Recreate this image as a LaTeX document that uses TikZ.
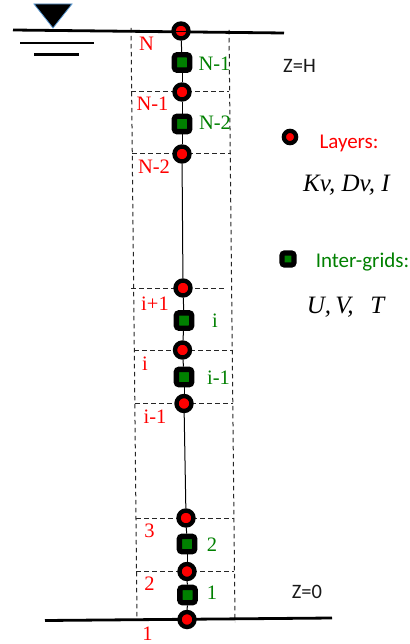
\documentclass[tikz,border=0pt]{standalone}
\usepackage{fontspec}
\setmainfont{Liberation Serif}
\newfontfamily\calfnt{Carlito}
\definecolor{gr}{RGB}{0,128,0}
\definecolor{tri}{RGB}{91,155,213}
\tikzset{
 layerpt/.style={circle,fill=red,draw=black,line width=4.4pt,minimum size=15pt,inner sep=0pt},
 gridpt/.style={rectangle,rounded corners=2.5pt,fill=gr,draw=black,line width=5.3pt,minimum size=15.3pt,inner sep=0pt},
 grid/.style={dashed,dash pattern=on 4.5pt off 3.5pt,line width=1pt,black!85},
 stem/.style={line width=1pt},
 ground/.style={line width=2.8pt},
 rl/.style={text=red,font=\fontsize{20.5}{21}\selectfont,inner sep=0pt},
 gl/.style={text=gr,font=\fontsize{20.5}{21}\selectfont,inner sep=0pt},
 kl/.style={text=black!90,font=\calfnt\fontsize{20.5}{21}\selectfont,inner sep=0pt},
}
\begin{document}
\begin{tikzpicture}[x=1pt,y=-1pt]
\useasboundingbox (0,0) rectangle (409,644);
% dashed frame
\coordinate (tl) at (131,28); \coordinate (bl) at (137,618);
\coordinate (tr) at (229,30); \coordinate (br) at (235,622);
\draw[grid] (tl) -- (bl); \draw[grid] (tr) -- (br);
% surface and bed
\coordinate (s1) at (13,30); \coordinate (s2) at (284,33);
\coordinate (b1) at (45,620.5); \coordinate (b2) at (332,618);
\draw[ground] (s1) -- (s2);
\draw[ground] (b1) -- (b2);
% water symbol
\draw[tri,line width=0.8pt,fill=black] (34,4) -- (72,4) -- (53,28) -- cycle;
\coordinate (w1) at (20,43); \coordinate (w2) at (94,43);
\coordinate (w3) at (34,54.5); \coordinate (w4) at (79,54.5);
\draw[line width=2.2pt] (w1) -- (w2);
\draw[line width=2.2pt] (w3) -- (w4);
% dashed layer lines
\foreach \n/\xa/\xb/\y in {a/131/229/92,b/132/230/153.5,c/131/226/288.5,d/134/232/350,e/135/233/403.5,f/136/234/518,g/136/234/571}{
 \coordinate (h\n1) at (\xa,\y); \coordinate (h\n2) at (\xb,\y);
 \draw[grid] (h\n1) -- (h\n2);
}
% nodes
\node[layerpt] (L1) at (181,31) {};
\node[layerpt] (L2) at (182,92) {};
\node[layerpt] (L3) at (182,154) {};
\node[layerpt] (L4) at (183,288) {};
\node[layerpt] (L5) at (182.5,350) {};
\node[layerpt] (L6) at (184,403.5) {};
\node[layerpt] (L7) at (186,518) {};
\node[layerpt] (L8) at (187,571.5) {};
\node[layerpt] (L9) at (187,619.5) {};
\node[gridpt] (G1) at (182,62.5) {};
\node[gridpt] (G2) at (182,124) {};
\node[gridpt] (G3) at (184,320.5) {};
\node[gridpt] (G4) at (184,377) {};
\node[gridpt] (G5) at (187,544) {};
\node[gridpt] (G6) at (187.5,595) {};
% stem
\draw[stem] (L1)--(G1); \draw[stem] (G1)--(L2); \draw[stem] (L2)--(G2); \draw[stem] (G2)--(L3);
\draw[stem] (L3)--(L4); \draw[stem] (L4)--(G3); \draw[stem] (G3)--(L5); \draw[stem] (L5)--(G4);
\draw[stem] (G4)--(L6); \draw[stem] (L6)--(L7); \draw[stem] (L7)--(G5); \draw[stem] (G5)--(L8);
\draw[stem] (L8)--(G6); \draw[stem] (G6)--(L9);
\draw[line width=1.6pt] (174,31.5) -- (188,31.5);
% red labels
\node[rl] (r1) at (146.5,44) {N};
\node[rl] (r2) at (152.5,103.5) {N-1};
\node[rl] (r3) at (154,166.5) {N-2};
\node[rl] (r4) at (155,304) {i+1};
\node[rl] (r5) at (145,363.5) {i};
\node[rl] (r6) at (155,416.5) {i-1};
\node[rl] (r7) at (149.5,530.5) {3};
\node[rl] (r8) at (149.5,584) {2};
\node[rl] (r9) at (147.5,634) {1};
% green labels
\node[gl] (g1) at (214.5,63.5) {N-1};
\node[gl] (g2) at (215,123) {N-2};
\node[gl] (g3) at (215,320.5) {i};
\node[gl] (g4) at (218.5,377.5) {i-1};
\node[gl] (g5) at (212,544.5) {2};
\node[gl] (g6) at (212,593) {1};
% other labels
\node[kl] (zh) at (299.5,65.5) {Z=H};
\node[kl] (z0) at (307,592) {Z=0};
\node[layerpt,line width=4.3pt,minimum size=12.3pt] (l1) at (290,137) {};
\node[text=red,font=\calfnt\fontsize{21}{21}\selectfont,inner sep=0pt] (l2) at (349,143.5) {Layers:};
\node[font=\itshape\fontsize{25}{25}\selectfont,inner sep=0pt] (l3) at (346.5,185) {Kv, Dv, I};
\node[gridpt,line width=5.2pt,minimum size=12pt] (l4) at (288,259) {};
\node[text=gr,font=\calfnt\fontsize{21}{21}\selectfont,inner sep=0pt] (l5) at (362.5,262.5) {Inter-grids:};
\node[font=\itshape\fontsize{25}{25}\selectfont,inner sep=0pt] (l6) at (345.5,307) {U,\,V,\ \ \,T};
\end{tikzpicture}
\end{document}
